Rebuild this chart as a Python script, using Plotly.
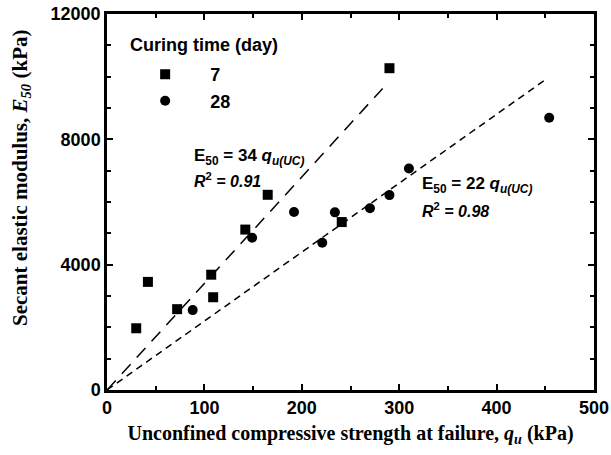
import plotly.graph_objects as go

# Data
qu_7 = [30, 42, 72, 107, 109, 142, 165, 241, 290]
E_7 = [1970, 3450, 2580, 3680, 2960, 5120, 6230, 5360, 10270]
qu_28 = [88, 149, 192, 221, 234, 270, 290, 310, 454]
E_28 = [2550, 4860, 5680, 4700, 5670, 5800, 6220, 7070, 8690]

fit_7_x = [0, 283]
fit_7_slope = 34
fit_28_x = [0, 450]
fit_28_slope = 22

x_ticks = [0, 100, 200, 300, 400, 500]
y_ticks = [0, 4000, 8000, 12000]

FONT_SANS = "Arial, Liberation Sans, Helvetica, sans-serif"
FONT_SERIF = "Times New Roman, Liberation Serif, serif"

fig = go.Figure()
fig.add_trace(go.Scatter(x=qu_7, y=E_7, mode="markers", name="<b>7</b>",
                         marker=dict(symbol="square", size=10, color="black")))
fig.add_trace(go.Scatter(x=qu_28, y=E_28, mode="markers", name="<b>28</b>",
                         marker=dict(symbol="circle", size=10, color="black")))
fig.add_trace(go.Scatter(x=fit_7_x, y=[fit_7_slope * v for v in fit_7_x], mode="lines",
                         line=dict(color="black", width=1.5, dash="13px,9px"), showlegend=False))
fig.add_trace(go.Scatter(x=fit_28_x, y=[fit_28_slope * v for v in fit_28_x], mode="lines",
                         line=dict(color="black", width=1.5, dash="7px,5px"), showlegend=False))

ann_font = dict(family=FONT_SANS, size=17, color="black")
r2_font = dict(family=FONT_SANS, size=16, color="black")
fig.add_annotation(x=87, y=7440, xref="x", yref="y", xanchor="left", yanchor="middle", showarrow=False,
                   text="<b>E<sub>50</sub> = 34 <i>q</i><sub><i>u(UC)</i></sub></b>", font=ann_font)
fig.add_annotation(x=87, y=6700, xref="x", yref="y", xanchor="left", yanchor="middle", showarrow=False,
                   text="<b><i>R</i><sup>2</sup><i> = 0.91</i></b>", font=r2_font)
fig.add_annotation(x=321, y=6540, xref="x", yref="y", xanchor="left", yanchor="middle", showarrow=False,
                   text="<b>E<sub>50</sub> = 22 <i>q</i><sub><i>u(UC)</i></sub></b>", font=ann_font)
fig.add_annotation(x=321, y=5740, xref="x", yref="y", xanchor="left", yanchor="middle", showarrow=False,
                   text="<b><i>R</i><sup>2</sup><i> = 0.98</i></b>", font=r2_font)

pa_w = 611 - 107 - 17
pa_h = 455 - 14 - 65
# legend title as annotation
fig.add_annotation(x=(128 - 107) / pa_w, y=(455 - 65 - 45) / pa_h, xref="paper", yref="paper",
                   showarrow=False, xanchor="left", yanchor="middle", text="<b>Curing time (day)</b>",
                   font=dict(family=FONT_SANS, size=18, color="black"))
# y-axis title as annotation (placed above the axis centre, as in the reference)
fig.add_annotation(x=(21 - 107) / pa_w, y=(455 - 65 - 178) / pa_h, xref="paper", yref="paper",
                   showarrow=False, xanchor="center", yanchor="middle", textangle=-90,
                   text="<b>Secant elastic modulus, <i>E<sub>50</sub></i> (kPa)</b>",
                   font=dict(family=FONT_SERIF, size=21, color="black"))

axis_common = dict(showline=True, linecolor="black", linewidth=2.5, mirror="ticks",
                   ticks="inside", ticklen=6, tickwidth=2, tickcolor="black",
                   showgrid=False, zeroline=False, automargin=False,
                   tickfont=dict(family=FONT_SANS, size=18, color="black", weight="bold"))

fig.update_layout(
    width=611, height=455,
    margin=dict(l=107, r=17, t=14, b=65),
    plot_bgcolor="white", paper_bgcolor="white",
    xaxis=dict(range=[0, 500], tickvals=x_ticks,
               ticktext=[str(v) for v in x_ticks],
               minor=dict(dtick=50, ticks="inside", ticklen=4, tickwidth=2, tickcolor="black"),
               title=dict(text="<b>Unconfined compressive strength at failure, <i>q<sub>u</sub></i> (kPa)</b>",
                          font=dict(family=FONT_SERIF, size=20, color="black"), standoff=9),
               **axis_common),
    yaxis=dict(range=[0, 12000], tickvals=y_ticks,
               ticktext=[str(v) for v in y_ticks],
               minor=dict(dtick=1000, ticks="inside", ticklen=4, tickwidth=2, tickcolor="black"),
               **axis_common),
    legend=dict(x=0.027, y=0.888, xanchor="left", yanchor="top",
                font=dict(family=FONT_SANS, size=18, color="black"),
                bgcolor="rgba(0,0,0,0)", itemwidth=80, tracegroupgap=0),
)

fig.write_html("out.html")
